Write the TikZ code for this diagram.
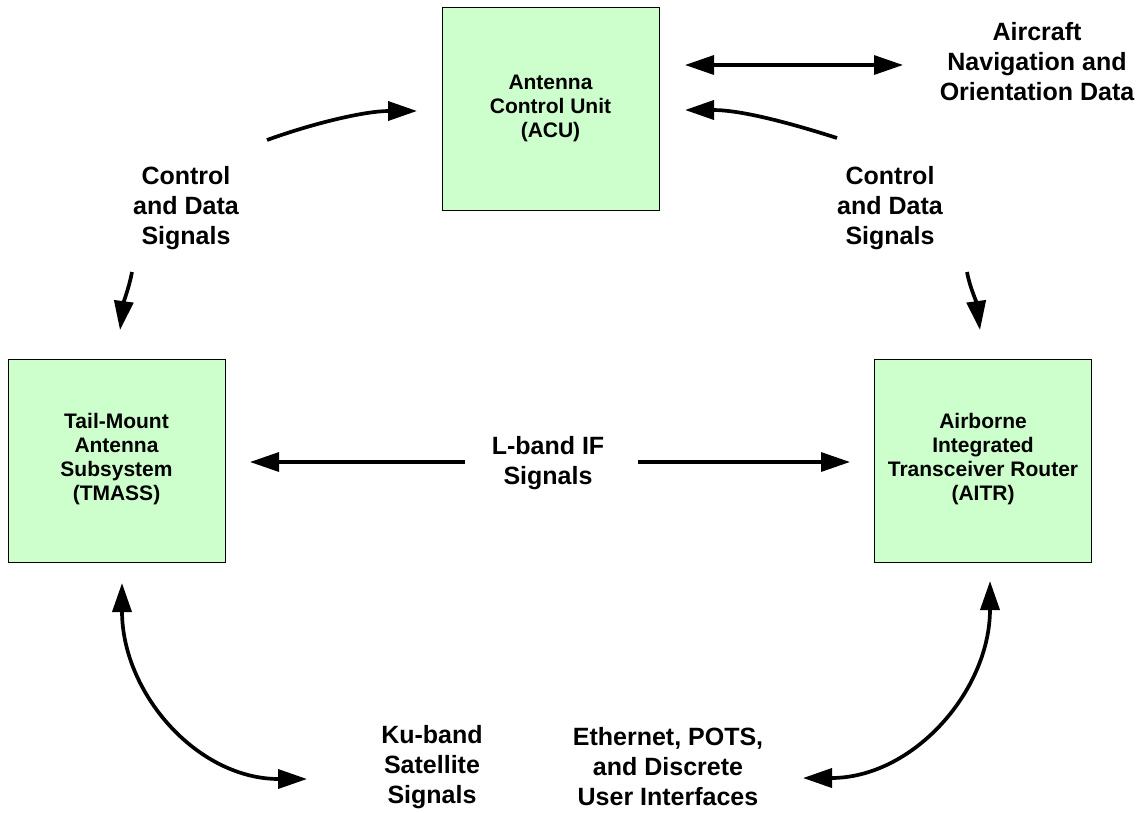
\documentclass[tikz,border=0pt]{standalone}
\usepackage{fontspec}
\setmainfont{Liberation Sans}
\usetikzlibrary{arrows.meta}
\definecolor{boxgreen}{RGB}{204,255,204}
\begin{document}
\begin{tikzpicture}[x=1pt,y=1pt,
  unit/.style={draw=black, line width=1pt, fill=boxgreen, minimum width=217pt, minimum height=203pt, align=center, inner sep=0pt, font=\fontsize{21}{24}\selectfont\bfseries},
  lbl/.style={align=center, inner sep=0pt, font=\fontsize{25}{30}\selectfont\bfseries},
  flow/.style={line width=3.7pt, -{Triangle[length=29pt,width=19pt]}},
  dflow/.style={line width=3.7pt, {Triangle[length=29pt,width=19pt]}-{Triangle[length=29pt,width=19pt]}}]
\useasboundingbox (0,0) rectangle (1145,-812);

% units
\node[unit] (acu) at (550.5,-108.5) {Antenna\\Control Unit\\(ACU)};
\node[unit] (tmass) at (116.5,-460.5) {\mbox{}\\[-12pt]Tail-Mount\\Antenna\\Subsystem\\(TMASS)};
\node[unit] (aitr) at (983,-460.5) {\mbox{}\\[-12pt]Airborne\\Integrated\\Transceiver Router\\(AITR)};

% labels
\node[lbl] (nav) at (1037,-62) {Aircraft\\Navigation and\\Orientation Data};
\node[lbl] (cdl) at (186,-208) {Control\\and Data\\Signals};
\node[lbl] (cdr) at (890,-208) {Control\\and Data\\Signals};
\node[lbl] (lband) at (548,-463) {L-band IF\\Signals};
\node[lbl] (ku) at (432,-767) {Ku-band\\Satellite\\Signals};
\node[lbl] (eth) at (668,-767) {Ethernet, POTS,\\and Discrete\\User Interfaces};

% arrow end points
\coordinate (tl1) at (267,-140);
\coordinate (tl2) at (417,-111);
\coordinate (tr1) at (837,-138);
\coordinate (tr2) at (685,-110);
\coordinate (n1) at (685,-65);
\coordinate (n2) at (903,-65);
\coordinate (ld1) at (132,-272);
\coordinate (ld2) at (120,-330);
\coordinate (rd1) at (967,-272);
\coordinate (rd2) at (980,-330);
\coordinate (lb1) at (465,-462);
\coordinate (lb2) at (250,-462);
\coordinate (lb3) at (638,-462);
\coordinate (lb4) at (850,-462);
\coordinate (bl1) at (122,-583);
\coordinate (bl2) at (307,-779);
\coordinate (br1) at (990,-581);
\coordinate (br2) at (803,-778);

% connectors
\draw[flow] (tl1) .. controls (314,-123) and (365,-111) .. (tl2);
\draw[flow] (tr1) .. controls (787,-122) and (740,-110) .. (tr2);
\draw[dflow, line width=3.3pt] (n1) -- (n2);
\draw[flow] (ld1) .. controls (129,-288) and (124,-300) .. (ld2);
\draw[flow] (rd1) .. controls (970,-288) and (976,-300) .. (rd2);
\draw[flow, line width=3.3pt] (lb1) -- (lb2);
\draw[flow, line width=3.3pt] (lb3) -- (lb4);
\draw[dflow] (bl1) .. controls (122,-693) and (197,-779) .. (bl2);
\draw[dflow] (br1) .. controls (990,-691) and (913,-778) .. (br2);
\end{tikzpicture}
\end{document}
